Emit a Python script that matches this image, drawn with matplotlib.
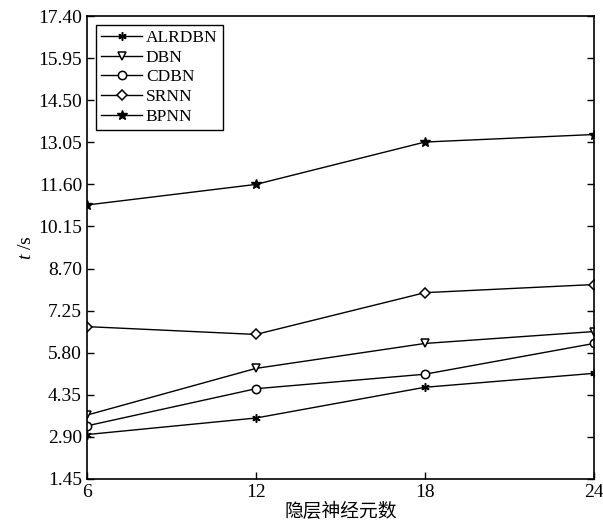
import numpy as np
import matplotlib
matplotlib.use('Agg')
from matplotlib import pyplot as plt

plt.rcParams['font.family'] = ['Liberation Serif', 'Noto Sans CJK SC']
plt.rcParams['mathtext.fontset'] = 'custom'
plt.rcParams['mathtext.rm'] = 'Liberation Serif'
plt.rcParams['mathtext.it'] = 'Liberation Serif:italic'

hidden = [6, 12, 18, 24]
alrdbn = [2.98, 3.55, 4.61, 5.09]
dbn = [3.65, 5.26, 6.12, 6.53]
cdbn = [3.28, 4.56, 5.06, 6.12]
srnn = [6.70, 6.43, 7.87, 8.15]
bpnn = [10.89, 11.60, 13.06, 13.32]
yticks = [1.45, 2.90, 4.35, 5.80, 7.25, 8.70, 10.15, 11.60, 13.05, 14.50, 15.95, 17.40]

fig = plt.figure(figsize=(6.03, 5.26), dpi=100)
ax = fig.add_axes([0.144, 0.0894, 0.841, 0.880])

ax.plot(hidden, alrdbn, 'k-', marker=(6, 2, 0), ms=6, mew=1.1, lw=1.0, label='ALRDBN')
ax.plot(hidden, dbn, 'k-', marker='v', ms=6, mfc='white', mew=1.1, lw=1.0, label='DBN')
ax.plot(hidden, cdbn, 'k-', marker='o', ms=6, mfc='white', mew=1.1, lw=1.0, label='CDBN')
ax.plot(hidden, srnn, 'k-', marker='D', ms=5, mfc='white', mew=1.1, lw=1.0, label='SRNN')
ax.plot(hidden, bpnn, 'k-', marker='*', ms=7, lw=1.0, label='BPNN')

ax.set_xlim(6, 24)
ax.set_ylim(1.45, 17.40)
ax.set_xticks(hidden)
ax.set_yticks(yticks)
ax.set_yticklabels(['%.2f' % v for v in yticks])
ax.tick_params(direction='in', right=True, labelsize=14, length=5, width=1)
for s in ax.spines.values():
    s.set_linewidth(1.2)

ax.set_xlabel('隐层神经元数', fontsize=13.5, family=['Noto Sans CJK SC'], labelpad=0)
ax.set_ylabel('$t$ /s', fontsize=14, labelpad=2)

leg = ax.legend(loc='upper left', fontsize=12.5, fancybox=False, edgecolor='black',
                framealpha=1, handlelength=2.4, borderaxespad=0.5, labelspacing=0.2,
                handletextpad=0.2, borderpad=0.3)
leg.get_frame().set_linewidth(1.0)

plt.savefig('out.png', dpi=100)
